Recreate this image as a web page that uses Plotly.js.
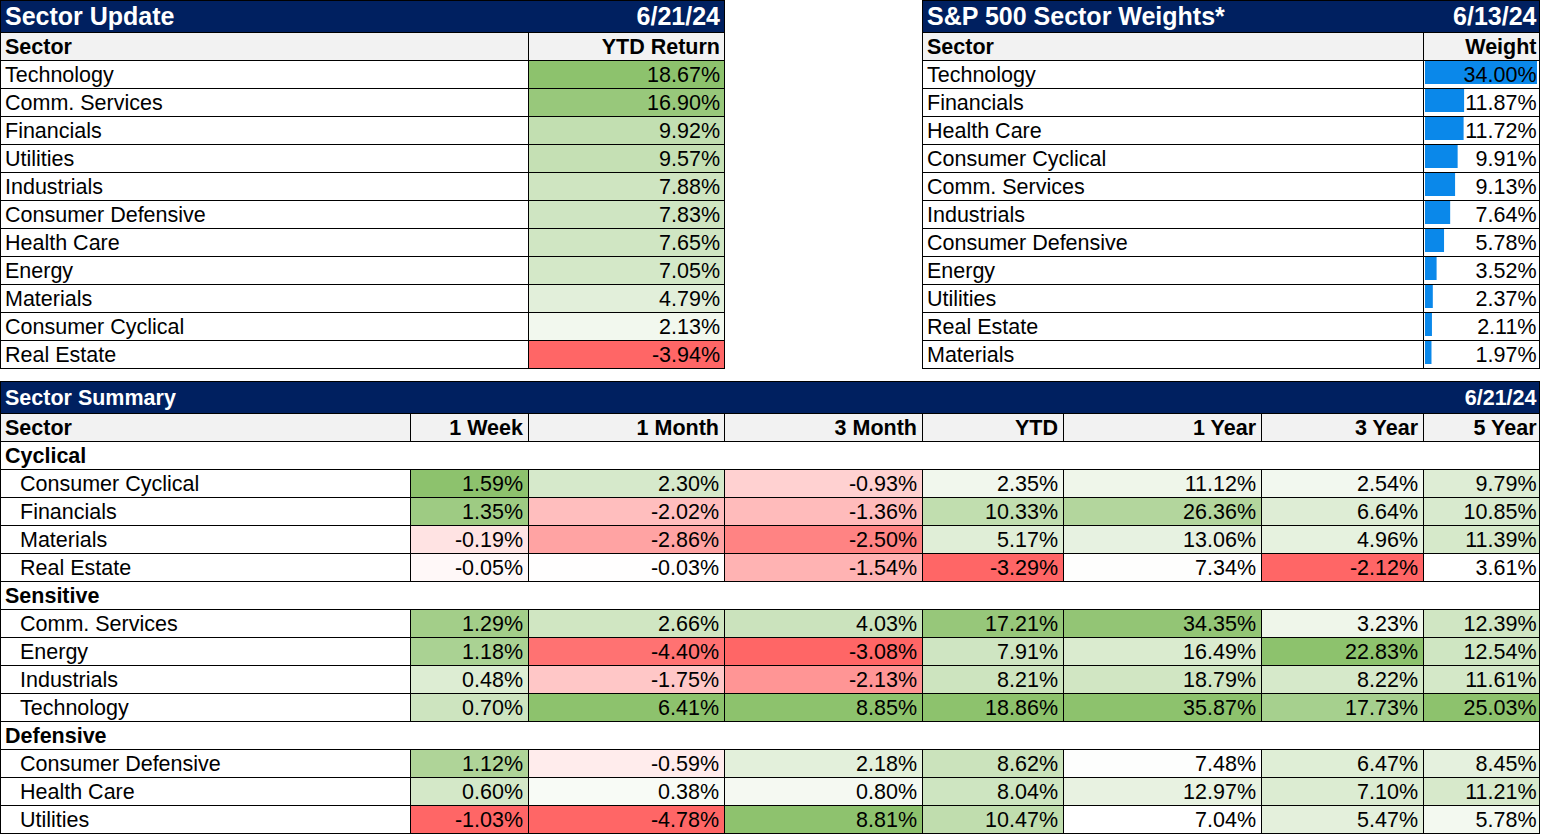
<!DOCTYPE html>
<html><head><meta charset="utf-8">
<script src="https://cdn.plot.ly/plotly-3.0.1.min.js"></script>
<style>html,body{margin:0;padding:0;background:#fff;overflow:hidden}#chart{width:1543px;height:834px}</style>
</head><body><div id="chart"></div>
<script>
// ---------------- DATA ----------------
const updateTitle = 'Sector Update';
const updateDate = '6/21/24';
const updateHeaders = ['Sector', 'YTD Return'];
const updateSectors = ['Technology','Comm. Services','Financials','Utilities','Industrials','Consumer Defensive','Health Care','Energy','Materials','Consumer Cyclical','Real Estate'];
const ytdReturn = [18.67, 16.90, 9.92, 9.57, 7.88, 7.83, 7.65, 7.05, 4.79, 2.13, -3.94];

const weightTitle = 'S&P 500 Sector Weights*';
const weightDate = '6/13/24';
const weightHeaders = ['Sector', 'Weight'];
const weightSectors = ['Technology','Financials','Health Care','Consumer Cyclical','Comm. Services','Industrials','Consumer Defensive','Energy','Utilities','Real Estate','Materials'];
const weights = [34.00, 11.87, 11.72, 9.91, 9.13, 7.64, 5.78, 3.52, 2.37, 2.11, 1.97];

const summaryTitle = 'Sector Summary';
const summaryDate = '6/21/24';
const summaryHeaders = ['Sector','1 Week','1 Month','3 Month','YTD','1 Year','3 Year','5 Year'];
const summaryGroups = ['Cyclical','Sensitive','Defensive'];
const summarySectors = ['Cyclical','Consumer Cyclical','Financials','Materials','Real Estate',
  'Sensitive','Comm. Services','Energy','Industrials','Technology',
  'Defensive','Consumer Defensive','Health Care','Utilities'];
const week1  = [null, 1.59,  1.35, -0.19, -0.05, null, 1.29,  1.18,  0.48,  0.70, null,  1.12, 0.60, -1.03];
const month1 = [null, 2.30, -2.02, -2.86, -0.03, null, 2.66, -4.40, -1.75,  6.41, null, -0.59, 0.38, -4.78];
const month3 = [null,-0.93, -1.36, -2.50, -1.54, null, 4.03, -3.08, -2.13,  8.85, null,  2.18, 0.80,  8.81];
const ytd    = [null, 2.35, 10.33,  5.17, -3.29, null,17.21,  7.91,  8.21, 18.86, null,  8.62, 8.04, 10.47];
const year1  = [null,11.12, 26.36, 13.06,  7.34, null,34.35, 16.49, 18.79, 35.87, null,  7.48,12.97,  7.04];
const year3  = [null, 2.54,  6.64,  4.96, -2.12, null, 3.23, 22.83,  8.22, 17.73, null,  6.47, 7.10,  5.47];
const year5  = [null, 9.79, 10.85, 11.39,  3.61, null,12.39, 12.54, 11.61, 25.03, null,  8.45,11.21,  5.78];

// ---------------- STYLE / GEOMETRY ----------------
const W = 1543, H = 834;
const FONT = 'Liberation Sans, Arial, sans-serif';
const NAVY = '#002060', HEADBG = '#F2F2F2', LINE = '#000000';
const GREEN = '#8DC26D', WHITE = '#FFFFFF', RED = '#FF6666', BARBLUE = '#0A88EA';
const TITLE_H = 32, HEAD_H = 28, ROW_H = 28;
const BODY_SIZE = 21.5, TITLE_SIZE = 25, SUM_TITLE_SIZE = 21.5;
const VOFF = 2.5;
const t1 = {x0: 0, xs: 528, x1: 725, y0: 0};
const t2 = {x0: 922, xs: 1423, x1: 1540, y0: 0};
const t3 = {cols: [0, 410, 528, 724, 922, 1063, 1261, 1423, 1540], y0: 381};
const PAD = 5, PAD_EDGE = 3.5, INDENT = 20;
const BAR_D0 = 1425, BAR_D1 = 1537;
const maxWeight = Math.max(...weights);
const px2bar = px => (px - BAR_D0) / (BAR_D1 - BAR_D0) * maxWeight;

const traces = [];
const lateTraces = [];
const shapes = [];

function scaleFor(vals) {
  const v = vals.filter(x => x != null);
  const mn = Math.min(...v), mx = Math.max(...v);
  let p = (0 - mn) / (mx - mn);
  p = Math.max(0, Math.min(1, p));
  let cs;
  if (p <= 0) cs = [[0, WHITE], [1, GREEN]];
  else if (p >= 1) cs = [[0, RED], [1, WHITE]];
  else cs = [[0, RED], [p, WHITE], [1, GREEN]];
  return {zmin: mn, zmax: mx, colorscale: cs};
}
function heat(vals, xl, xr, yTop) {
  const edges = [];
  for (let i = 0; i <= vals.length; i++) edges.push(yTop + i * ROW_H);
  traces.push(Object.assign({
    type: 'heatmap', x: [xl, xr], y: edges, z: vals.map(v => [v]),
    showscale: false, hoverinfo: 'skip', zsmooth: false
  }, scaleFor(vals)));
}
function txtTrace(xs, ys, texts, pos, size, bold, color, xaxis) {
  return {
    type: 'scatter', mode: 'text', x: xs, y: ys, text: texts, textposition: pos,
    xaxis: xaxis || 'x', yaxis: 'y',
    textfont: {family: FONT, size: size, color: color || '#000', weight: bold ? 700 : 400},
    hoverinfo: 'skip', showlegend: false, cliponaxis: false
  };
}
function txt(xs, ys, texts, pos, size, bold, color) {
  traces.push(txtTrace(xs, ys, texts, pos, size, bold, color));
}
function rect(x0, y0, x1, y1, color) {
  shapes.push({type: 'rect', xref: 'x', yref: 'y', x0, y0, x1, y1, fillcolor: color, line: {width: 0}, layer: 'below'});
}
function hl(y, x0, x1) {
  shapes.push({type: 'line', xref: 'x', yref: 'y', x0: x0, x1: x1, y0: y + 0.5, y1: y + 0.5, line: {color: LINE, width: 1}, layer: 'above'});
}
function vl(x, y0, y1) {
  shapes.push({type: 'line', xref: 'x', yref: 'y', x0: x + 0.5, x1: x + 0.5, y0: y0, y1: y1, line: {color: LINE, width: 1}, layer: 'above'});
}
const fmt = v => v.toFixed(2) + '%';

// ---------- Simple two-column tables (top) ----------
function smallTable(t, title, date, headers, names, values, colored) {
  const yHead = t.y0 + TITLE_H, yBody = yHead + HEAD_H;
  const n = names.length, yEnd = yBody + n * ROW_H;
  const rp = colored ? PAD : PAD_EDGE;
  rect(t.x0, t.y0, t.x1, yHead, NAVY);
  rect(t.x0, yHead, t.x1, yBody, HEADBG);
  const centers = names.map((_, i) => yBody + ROW_H * (i + 0.5));
  txt([t.x0 + PAD], [t.y0 + TITLE_H / 2 + VOFF], [title], 'middle right', TITLE_SIZE, true, '#FFFFFF');
  txt([t.x1 - rp], [t.y0 + TITLE_H / 2 + VOFF], [date], 'middle left', TITLE_SIZE, true, '#FFFFFF');
  txt([t.x0 + PAD], [yHead + HEAD_H / 2 + VOFF], [headers[0]], 'middle right', BODY_SIZE, true);
  txt([t.x1 - rp], [yHead + HEAD_H / 2 + VOFF], [headers[1]], 'middle left', BODY_SIZE, true);
  txt(names.map(() => t.x0 + PAD), centers.map(c => c + VOFF), names, 'middle right', BODY_SIZE, false);
  if (colored) {
    heat(values, t.xs, t.x1, yBody);
    txt(values.map(() => t.x1 - rp), centers.map(c => c + VOFF), values.map(fmt), 'middle left', BODY_SIZE, false);
  } else {
    lateTraces.push({
      type: 'bar', orientation: 'h', x: values, y: centers, xaxis: 'x2', yaxis: 'y',
      width: 23, offset: -13, marker: {color: BARBLUE, line: {width: 0}},
      hoverinfo: 'skip', showlegend: false
    });
    lateTraces.push(txtTrace(values.map(() => px2bar(t.x1 - rp)), centers.map(c => c + VOFF),
      values.map(fmt), 'middle left', BODY_SIZE, false, '#000', 'x2'));
  }
  hl(t.y0, t.x0, t.x1);
  hl(yHead, t.x0, t.x1);
  for (let i = 0; i <= n; i++) hl(yBody + i * ROW_H, t.x0, t.x1);
  vl(t.x0, t.y0, yEnd + 1);
  vl(t.x1 - 1, t.y0, yEnd + 1);
  vl(t.xs, yHead, yEnd + 1);
}
smallTable(t1, updateTitle, updateDate, updateHeaders, updateSectors, ytdReturn, true);
smallTable(t2, weightTitle, weightDate, weightHeaders, weightSectors, weights, false);

// ---------- Sector Summary ----------
(function () {
  const cols = t3.cols, x0 = cols[0], x1 = cols[cols.length - 1];
  const yHead = t3.y0 + TITLE_H, yBody = yHead + HEAD_H;
  const n = summarySectors.length, yEnd = yBody + n * ROW_H;
  const rpad = j => (j === cols.length - 3 ? PAD_EDGE : PAD);
  rect(x0, t3.y0, x1, yHead, NAVY);
  rect(x0, yHead, x1, yBody, HEADBG);
  const series = [week1, month1, month3, ytd, year1, year3, year5];
  series.forEach((s, j) => heat(s, cols[j + 1], cols[j + 2], yBody));
  const centers = summarySectors.map((_, i) => yBody + ROW_H * (i + 0.5) + VOFF);
  const isGroup = summarySectors.map(s => summaryGroups.includes(s));
  txt([x0 + PAD], [t3.y0 + TITLE_H / 2 + VOFF], [summaryTitle], 'middle right', SUM_TITLE_SIZE, true, '#FFFFFF');
  txt([x1 - PAD_EDGE], [t3.y0 + TITLE_H / 2 + VOFF], [summaryDate], 'middle left', SUM_TITLE_SIZE, true, '#FFFFFF');
  txt([x0 + PAD], [yHead + HEAD_H / 2 + VOFF], [summaryHeaders[0]], 'middle right', BODY_SIZE, true);
  txt(summaryHeaders.slice(1).map((_, j) => cols[j + 2] - rpad(j)), summaryHeaders.slice(1).map(() => yHead + HEAD_H / 2 + VOFF),
      summaryHeaders.slice(1), 'middle left', BODY_SIZE, true);
  const gi = [], si = [];
  isGroup.forEach((g, i) => (g ? gi : si).push(i));
  txt(gi.map(() => x0 + PAD), gi.map(i => centers[i]), gi.map(i => summarySectors[i]), 'middle right', BODY_SIZE, true);
  txt(si.map(() => x0 + INDENT), si.map(i => centers[i]), si.map(i => summarySectors[i]), 'middle right', BODY_SIZE, false);
  series.forEach((s, j) => {
    txt(si.map(() => cols[j + 2] - rpad(j)), si.map(i => centers[i]), si.map(i => fmt(s[i])), 'middle left', BODY_SIZE, false);
  });
  hl(t3.y0, x0, x1);
  hl(yHead, x0, x1);
  for (let i = 0; i <= n; i++) hl(yBody + i * ROW_H, x0, x1);
  vl(x0, t3.y0, yEnd + 1);
  vl(x1 - 1, t3.y0, yEnd + 1);
  cols.slice(1, -1).forEach(c => vl(c, yHead, yBody));
  let start = null;
  for (let i = 0; i <= n; i++) {
    const g = i === n || isGroup[i];
    if (!g && start === null) start = i;
    if (g && start !== null) {
      cols.slice(1, -1).forEach(c => vl(c, yBody + start * ROW_H, yBody + i * ROW_H));
      start = null;
    }
  }
})();

const layout = {
  width: W, height: H,
  margin: {l: 0, r: 0, t: 0, b: 0, pad: 0},
  paper_bgcolor: '#FFFFFF', plot_bgcolor: 'rgba(0,0,0,0)',
  showlegend: false,
  xaxis: {range: [0, W], visible: false, fixedrange: true, domain: [0, 1]},
  yaxis: {range: [H, 0], visible: false, fixedrange: true, domain: [0, 1]},
  xaxis2: {range: [0, maxWeight], visible: false, fixedrange: true,
           domain: [BAR_D0 / W, BAR_D1 / W], anchor: 'y'},
  shapes: shapes
};
Plotly.newPlot('chart', traces.concat(lateTraces), layout, {staticPlot: true, displayModeBar: false});
</script></body></html>
